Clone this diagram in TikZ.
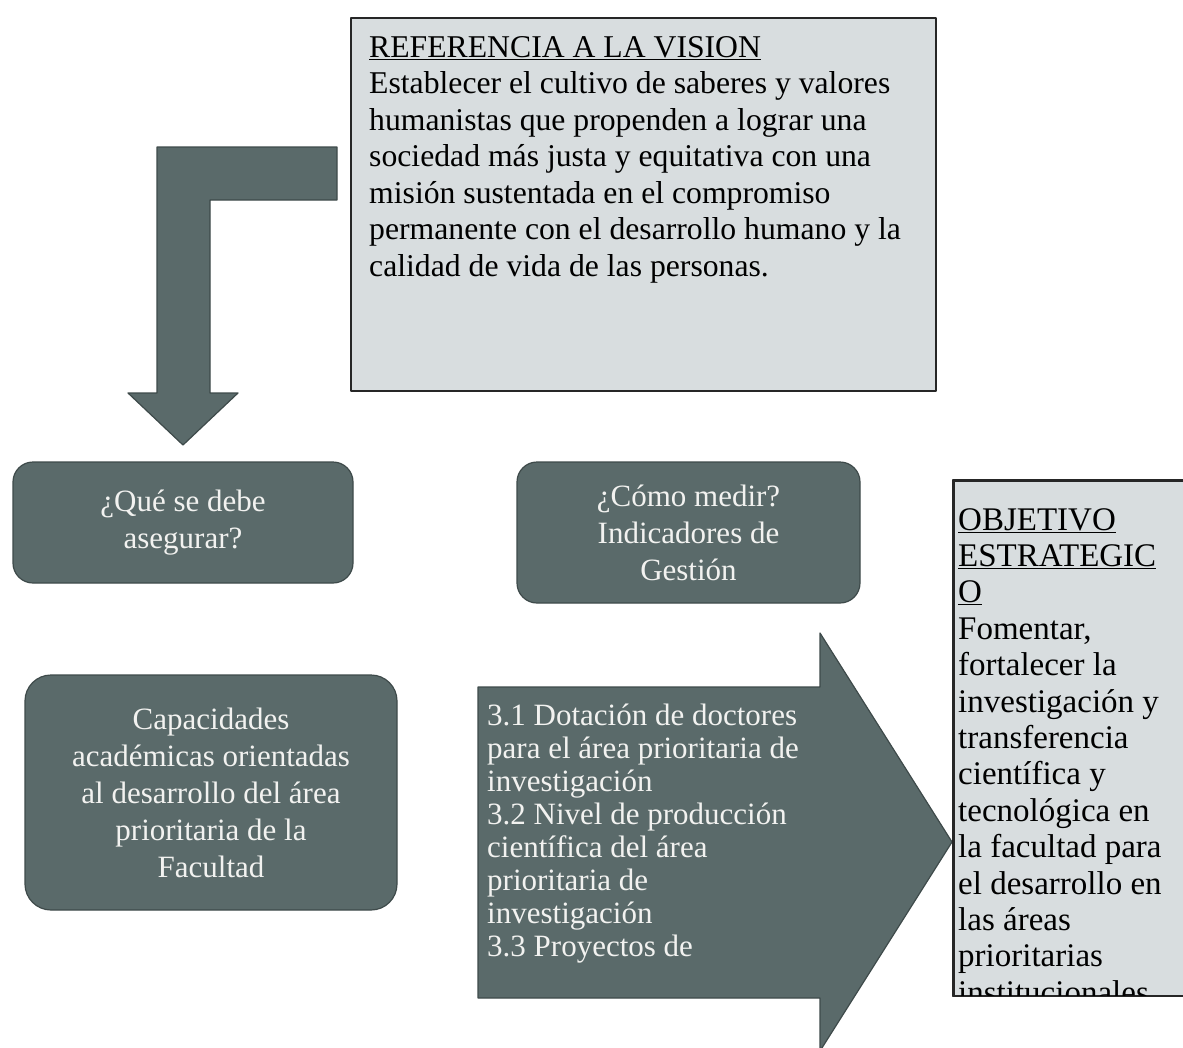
\documentclass[tikz,border=0pt]{standalone}
\usepackage{fontspec}
\setmainfont{Liberation Serif}
\definecolor{slate}{RGB}{90,106,106}
\definecolor{slateline}{RGB}{62,74,74}
\definecolor{paper}{RGB}{216,221,223}
\definecolor{chalk}{RGB}{242,242,240}
\tikzset{
  darkbox/.style={draw=slateline, fill=slate, line width=1.2pt, rounded corners=20pt, text=chalk, align=center, inner sep=0pt, font=\fontsize{31}{37}\selectfont},
  darkshape/.style={draw=slateline, fill=slate, line width=1.2pt},
  lightbox/.style={draw=black!85, fill=paper, line width=1.5pt, inner sep=0pt},
  bodytext/.style={align=left, inner sep=0pt, font=\fontsize{31.7}{36.5}\selectfont}
}
\begin{document}
\begin{tikzpicture}[x=1pt, y=-1pt, line join=round]
	\useasboundingbox (0,0) rectangle (1183,1047);
	\node[lightbox, anchor=north west, minimum width=585, minimum height=373] (vision) at (350,17) {};
	\node[bodytext, anchor=north west] (visiontext) at (369,36) {\underline{REFERENCIA A LA VISION}\\
		Establecer el cultivo de saberes y valores\\
		humanistas que propenden a lograr una\\
		sociedad más justa y equitativa con una\\
		misión sustentada en el compromiso\\
		permanente con el desarrollo humano y la\\
		calidad de vida de las personas.};
	\draw[darkshape] (337,147) -- (157,147) -- (157,393) -- (128,393) -- (183,445) -- (238,393) -- (210,393) -- (210,200) -- (337,200) -- cycle;
	\node[darkbox, minimum width=340, minimum height=121] (asegurar) at (183,522.5) {¿Qué se debe\\asegurar?};
	\node[darkbox, minimum width=343, minimum height=141] (medir) at (688.5,532.5) {¿Cómo medir?\\Indicadores de\\Gestión};
	\node[darkbox, rounded corners=26pt, minimum width=372, minimum height=235] (capacidades) at (211,792.5) {Capacidades\\académicas orientadas\\al desarrollo del área\\prioritaria de la\\Facultad};
	\draw[darkshape] (478,687) -- (820,687) -- (820,633) -- (952,842) -- (820,1051) -- (820,998) -- (478,998) -- cycle;
	\node[bodytext, text=chalk, anchor=north west, font=\fontsize{31}{33}\selectfont] (indicadores) at (487,704) {3.1 Dotación de doctores\\
		para el área prioritaria de\\
		investigación\\
		3.2 Nivel de producción\\
		científica del área\\
		prioritaria de\\
		investigación\\
		3.3 Proyectos de};
	\node[lightbox, anchor=north west, minimum width=260, minimum height=515] (objetivo) at (953,480) {};
	\begin{scope}
		\clip (objetivo.north west) rectangle (objetivo.south east);
		\node[bodytext, anchor=north west, font=\fontsize{33}{36.4}\selectfont] (objetivotext) at (958,508) {\underline{OBJETIVO}\\
			\underline{ESTRATEGIC}\\
			\underline{O}\\
			Fomentar,\\
			fortalecer la\\
			investigación y\\
			transferencia\\
			científica y\\
			tecnológica en\\
			la facultad para\\
			el desarrollo en\\
			las áreas\\
			prioritarias\\
			institucionales};
	\end{scope}
	\draw[black!85, line width=1.5pt] (objetivo.north west) rectangle (objetivo.south east);
\end{tikzpicture}
\end{document}
